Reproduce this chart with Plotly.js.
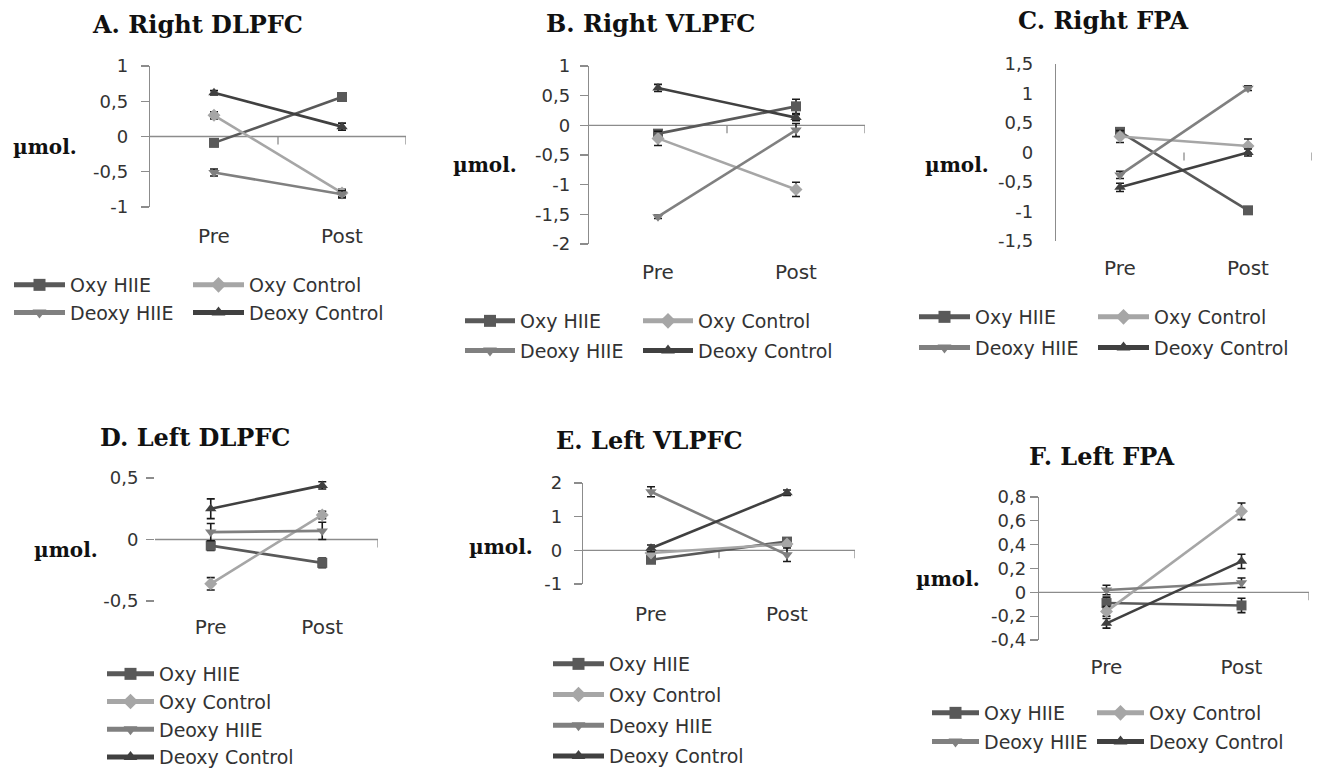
<!DOCTYPE html>
<html><head><meta charset="utf-8">
<script src="https://cdn.plot.ly/plotly-3.0.1.min.js"></script>
<style>html,body{margin:0;padding:0;background:#fff}#chart{width:1317px;height:769px}</style>
</head><body><div id="chart"></div>
<script>
// ---------------- DATA ----------------
const categories = ['Pre', 'Post'];
const seriesNames = ['Oxy HIIE', 'Oxy Control', 'Deoxy HIIE', 'Deoxy Control'];
const panelTitles = ['A. Right DLPFC', 'B. Right VLPFC', 'C. Right FPA', 'D. Left DLPFC', 'E. Left VLPFC', 'F. Left FPA'];
const yUnitLabel = 'µmol.';

// each row = one series (order of seriesNames), values at [Pre, Post]
const valuesA = [[-0.09, 0.56], [0.30, -0.80], [-0.51, -0.82], [0.62, 0.14]];
const errorsA = [[0.05, 0.05], [0.05, 0.05], [0.05, 0.05], [0.03, 0.05]];
const valuesB = [[-0.14, 0.32], [-0.22, -1.08], [-1.54, -0.08], [0.63, 0.13]];
const errorsB = [[0.05, 0.12], [0.12, 0.12], [0.03, 0.11], [0.06, 0.05]];
const valuesC = [[0.35, -0.98], [0.27, 0.11], [-0.38, 1.09], [-0.59, 0.00]];
const errorsC = [[0.06, 0.05], [0.10, 0.12], [0.06, 0.04], [0.07, 0.06]];
const valuesD = [[-0.05, -0.19], [-0.36, 0.20], [0.06, 0.07], [0.25, 0.44]];
const errorsD = [[0.04, 0.04], [0.05, 0.03], [0.07, 0.07], [0.08, 0.03]];
const valuesE = [[-0.28, 0.26], [-0.08, 0.19], [1.74, -0.13], [0.06, 1.71]];
const errorsE = [[0.10, 0.10], [0.05, 0.05], [0.15, 0.20], [0.10, 0.08]];
const valuesF = [[-0.09, -0.11], [-0.16, 0.68], [0.02, 0.08], [-0.26, 0.26]];
const errorsF = [[0.05, 0.06], [0.04, 0.07], [0.04, 0.04], [0.04, 0.06]];

const yTickValsA = [-1, -0.5, 0, 0.5, 1];
const yTickTextA = ['-1', '-0,5', '0', '0,5', '1'];
const yTickValsB = [-2, -1.5, -1, -0.5, 0, 0.5, 1];
const yTickTextB = ['-2', '-1,5', '-1', '-0,5', '0', '0,5', '1'];
const yTickValsC = [-1.5, -1, -0.5, 0, 0.5, 1, 1.5];
const yTickTextC = ['-1,5', '-1', '-0,5', '0', '0,5', '1', '1,5'];
const yTickValsD = [-0.5, 0, 0.5];
const yTickTextD = ['-0,5', '0', '0,5'];
const yTickValsE = [-1, 0, 1, 2];
const yTickTextE = ['-1', '0', '1', '2'];
const yTickValsF = [-0.4, -0.2, 0, 0.2, 0.4, 0.6, 0.8];
const yTickTextF = ['-0,4', '-0,2', '0', '0,2', '0,4', '0,6', '0,8'];

// ---------------- STYLE / LAYOUT ----------------
const W = 1317, H = 769;
const colors = ['#595959', '#a6a6a6', '#808080', '#404040'];
const symbols = ['square', 'diamond', 'triangle-down', 'triangle-up'];
const axisGray = '#8c8c8c';
const textColor = '#333333';
const sans = 'DejaVu Sans';
const serif = 'DejaVu Serif';

const panels = [
  {vals: valuesA, errs: errorsA, tv: yTickValsA, tt: yTickTextA, range: [-1, 1],
   box: {l: 150, r: 406, t: 66, b: 207}, yLine: true, yTicks: true, zeroLine: true, xBound: [0.5, 1.5],
   yStand: 9, xStand: 15, title: [197, 24], unit: [45, 147],
   legendCols: [[0, 2], [1, 3]], legendX: [14, 193], legendY: 285, gap: 0, itemW: 51},
  {vals: valuesB, errs: errorsB, tv: yTickValsB, tt: yTickTextB, range: [-2, 1],
   box: {l: 589, r: 865, t: 66, b: 244}, yLine: true, yTicks: true, zeroLine: true, xBound: [0.5, 1.5],
   yStand: 6, xStand: 14, title: [650, 23], unit: [485, 165],
   legendCols: [[0, 2], [1, 3]], legendX: [465, 643], legendY: 321, gap: 2, itemW: 50},
  {vals: valuesC, errs: errorsC, tv: yTickValsC, tt: yTickTextC, range: [-1.5, 1.5],
   box: {l: 1056, r: 1312, t: 64, b: 241}, yLine: true, yTicks: false, zeroLine: false, xBound: [0.5, 1.5],
   yStand: 18, xStand: 13, title: [1103, 21], unit: [957, 165],
   legendCols: [[0, 2], [1, 3]], legendX: [919, 1098], legendY: 317, gap: 3, itemW: 51},
  {vals: valuesD, errs: errorsD, tv: yTickValsD, tt: yTickTextD, range: [-0.5, 0.5],
   box: {l: 155, r: 378, t: 478, b: 601}, yLine: false, yTicks: true, zeroLine: true, xBound: [1.5],
   yStand: 4, xStand: 12, title: [195, 437], unit: [66, 550],
   legendCols: [[0, 1, 2, 3]], legendX: [107], legendY: 674, gap: 0, itemW: 47},
  {vals: valuesE, errs: errorsE, tv: yTickValsE, tt: yTickTextE, range: [-1, 2],
   box: {l: 583, r: 855, t: 483, b: 584}, yLine: true, yTicks: true, zeroLine: true, xBound: [0.5, 1.5],
   yStand: 8, xStand: 16, title: [649, 440], unit: [501, 547],
   legendCols: [[0, 1, 2, 3]], legendX: [553], legendY: 664, gap: 3, itemW: 51},
  {vals: valuesF, errs: errorsF, tv: yTickValsF, tt: yTickTextF, range: [-0.4, 0.8],
   box: {l: 1039, r: 1309, t: 497, b: 640}, yLine: true, yTicks: true, zeroLine: true, xBound: [1.5],
   yStand: 0, xStand: 13, title: [1102, 456], unit: [948, 579],
   legendCols: [[0, 2], [1, 3]], legendX: [932, 1097], legendY: 713, gap: 1, itemW: 47}
];

const axKey = (p, n) => p + 'axis' + (n === 1 ? '' : n);
const axRef = (p, n) => p + (n === 1 ? '' : n);
const legKey = k => 'legend' + (k === 1 ? '' : k);

const data = [];
const layout = {
  width: W, height: H, margin: {l: 0, r: 0, t: 0, b: 0, autoexpand: false},
  paper_bgcolor: '#ffffff', plot_bgcolor: 'rgba(0,0,0,0)',
  showlegend: true, hovermode: false, annotations: [], shapes: []
};

let legendCounter = 0;
const legendTopOffset = 19;   // px from first item centre to legend top
const legendLineOffset = 5;   // px from legend left to start of sample line

panels.forEach((p, i) => {
  const n = i + 1;
  const b = p.box;
  const xr = axRef('x', n), yr = axRef('y', n);
  const yDom = [1 - b.b / H, 1 - b.t / H];

  layout[axKey('x', n)] = {
    type: 'category', domain: [b.l / W, b.r / W], anchor: yr, range: [-0.5, 1.5],
    showline: false, showgrid: false, zeroline: false, ticks: '',
    tickfont: {family: sans, size: 20, color: textColor}, ticklabelstandoff: p.xStand, fixedrange: true
  };
  layout[axKey('y', n)] = {
    domain: yDom, anchor: xr, range: p.range, tickvals: p.tv, ticktext: p.tt,
    showline: p.yLine, linecolor: axisGray, linewidth: 1.3,
    ticks: p.yTicks ? 'outside' : '', ticklen: 8, tickwidth: 1.3, tickcolor: axisGray,
    showgrid: false, zeroline: false, ticklabelstandoff: p.yStand,
    tickfont: {family: sans, size: 18, color: textColor}, fixedrange: true
  };

  // horizontal category axis drawn at y = 0 (line + boundary tick marks)
  if (p.zeroLine) {
    layout.shapes.push({
      type: 'line', layer: 'below', xref: xr + ' domain', x0: 0, x1: 1, yref: yr, y0: 0, y1: 0,
      line: {color: axisGray, width: 1.3}
    });
  }
  p.xBound.forEach(v => {
    layout.shapes.push({
      type: 'line', layer: 'below', xref: xr, x0: v, x1: v, yref: yr,
      ysizemode: 'pixel', yanchor: 0, y0: 0, y1: -8, line: {color: axisGray, width: 1.3}
    });
  });

  layout.annotations.push({
    text: '<b>' + panelTitles[i] + '</b>', xref: 'paper', yref: 'paper',
    x: p.title[0] / W, y: 1 - p.title[1] / H, xanchor: 'center', yanchor: 'middle',
    showarrow: false, font: {family: serif, size: 24, color: '#111111'}
  });
  layout.annotations.push({
    text: '<b>' + yUnitLabel + '</b>', xref: 'paper', yref: 'paper',
    x: p.unit[0] / W, y: 1 - p.unit[1] / H, xanchor: 'center', yanchor: 'middle',
    showarrow: false, font: {family: serif, size: 20, color: '#111111'}
  });

  const legendOf = {};
  p.legendCols.forEach((col, c) => {
    legendCounter += 1;
    const lk = legKey(legendCounter);
    col.forEach(s => { legendOf[s] = lk; });
    layout[lk] = {
      x: (p.legendX[c] - legendLineOffset) / W, y: 1 - (p.legendY - legendTopOffset) / H,
      xanchor: 'left', yanchor: 'top', orientation: 'v', bgcolor: 'rgba(0,0,0,0)', borderwidth: 0,
      font: {family: sans, size: 19, color: textColor}, tracegroupgap: p.gap, itemwidth: p.itemW,
      itemsizing: 'constant'
    };
  });

  [0, 1, 2, 3].forEach(s => {
    data.push({
      type: 'scatter', mode: 'lines+markers', x: categories, y: p.vals[s],
      xaxis: xr, yaxis: yr, name: seriesNames[s],
      legend: legendOf[s], legendgroup: 'p' + n + 's' + s,
      line: {color: colors[s], width: 2.6},
      marker: {symbol: symbols[s], size: 10, color: colors[s]},
      error_y: {type: 'data', array: p.errs[s], visible: true, color: '#1a1a1a', thickness: 1.6, width: 4},
      cliponaxis: false
    });
  });
});

Plotly.newPlot('chart', data, layout, {staticPlot: true});
</script>
</body></html>
